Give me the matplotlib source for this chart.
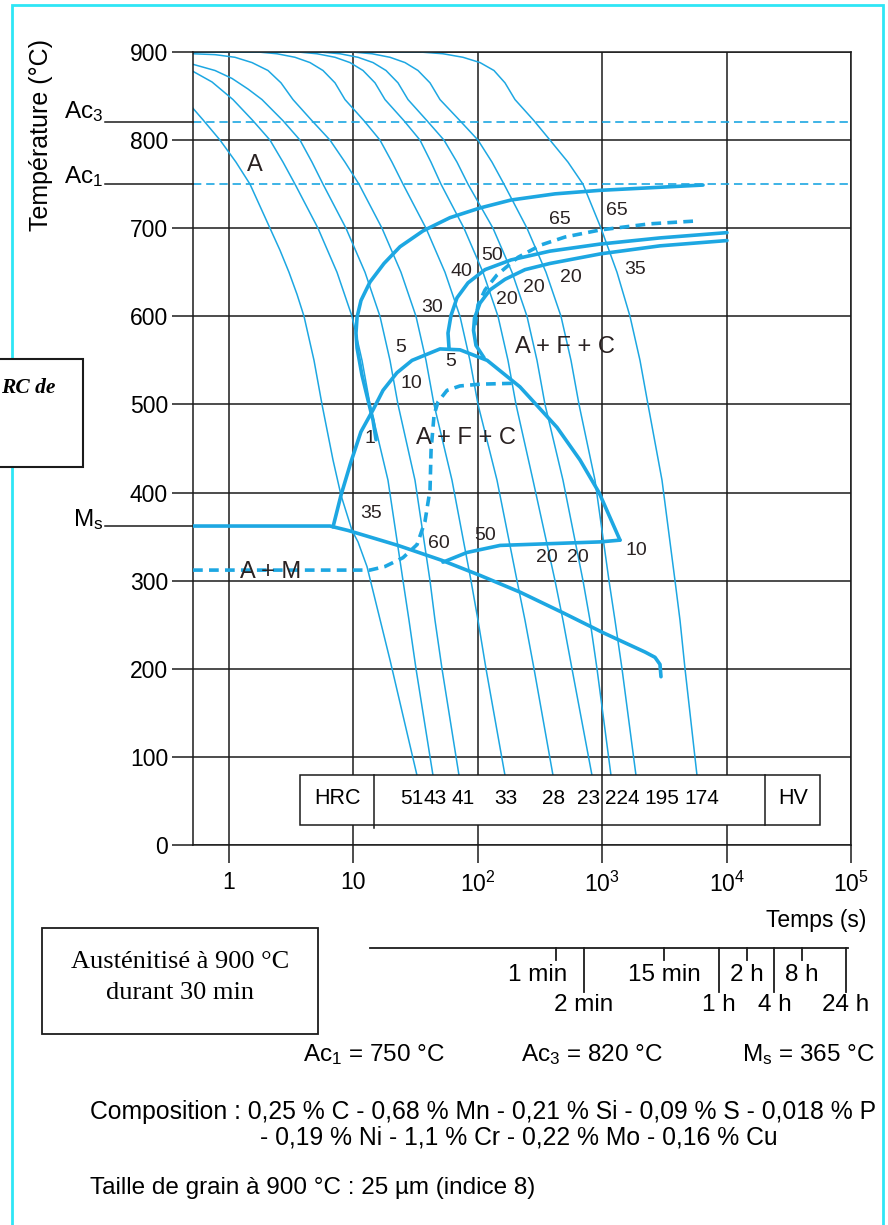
import matplotlib
matplotlib.use("Agg")
import matplotlib.pyplot as plt
from matplotlib.patches import Rectangle
from matplotlib import transforms, ticker

plt.rcParams['font.family'] = ['Liberation Sans', 'DejaVu Sans']
plt.rcParams['mathtext.default'] = 'regular'
plt.rcParams['lines.scale_dashes'] = False

BLUE = '#1da7e2'
INK = '#1b1b1b'
CYAN = '#2ee6f6'

# ---- cooling curves : time (s) / temperature (degC) ----
c1_t = [0.514, 0.618, 0.847, 1.138, 1.475, 2.136, 2.570, 3.036, 3.521, 4.009, 4.824, 5.593, 6.855, 7.949, 9.744, 10.89, 12.86, 19.69, 32.45]
c1_T = [836, 823, 800, 775, 750, 700, 675, 650, 625, 600, 550, 500, 437, 397, 357, 344, 316, 210, 79]
c2_t = [0.514, 0.730, 1.077, 1.559, 2.136, 2.718, 3.393, 5.192, 7.383, 9.744, 11.73, 13.6, 18.97, 25.05, 27.99, 31.86, 43.63]
c2_T = [878, 866, 846, 822, 800, 775, 750, 700, 650, 600, 550, 500, 414, 300, 255, 200, 79]
c3_t = [0.514, 0.772, 1.057, 1.421, 1.842, 2.718, 3.722, 4.648, 5.697, 8.719, 12.40, 16.36, 19.69, 22.83, 31.27, 41.28, 45.29, 51.55, 70.61]
c3_T = [886, 879, 870, 858, 846, 822, 800, 775, 750, 700, 650, 600, 550, 500, 414, 300, 255, 200, 79]
c4_t = [0.514, 0.772, 1.117, 1.530, 2.058, 2.618, 3.269, 4.648, 6.485, 8.56, 11.09, 16.98, 24.13, 31.86, 38.34, 44.45, 62.03, 88.17, 100.4, 116.4, 165.4]
c4_T = [898, 897, 894, 888, 879, 865, 846, 822, 800, 775, 750, 700, 650, 600, 550, 500, 414, 300, 255, 200, 79]
slow_T = [900, 900, 898, 894, 888, 879, 865, 846, 822, 800, 775, 750, 700, 650, 600, 550, 500, 414, 300, 255, 200, 79]
c5_t = [0.514, 1.711, 2.431, 3.393, 4.479, 5.697, 7.115, 8.56, 12.17, 16.36, 20.43, 25.05, 38.34, 54.5, 71.93, 86.5, 100.4, 142.7, 206.6, 239.6, 283.1, 402.3]
c6_t = [0.514, 3.586, 5.098, 7.115, 9.391, 11.95, 14.92, 17.95, 25.51, 34.31, 42.05, 50.6, 77.47, 110.1, 145.4, 174.9, 202.8, 277.8, 417.5, 484, 571.7, 827.9]
c7_t = [0.514, 5.39, 7.803, 10.89, 14.38, 18.29, 22.83, 27.48, 39.06, 53.5, 68.05, 83.41, 132.5, 188.3, 248.6, 299.2, 346.9, 484, 701, 797.8, 908.2, 1177]
c8_t = [0.514, 9.744, 14.11, 19.69, 25.99, 33.06, 41.28, 49.67, 71.93, 100.4, 130.1, 162.4, 248.6, 353.4, 466.5, 561.3, 650.9, 875.2, 1134, 1267, 1443, 1869]
c9_t = [0.514, 34.31, 52.52, 76.03, 104.2, 134.9, 165.4, 199.1, 283.1, 380.5, 531, 701, 978.1, 1315, 1673, 2013, 2334, 3025, 3848, 4222, 4631, 5781]

# ---- transformation lines ----
fer_t = [6462, 960, 417.5, 184.9, 104.2, 59.8, 36.3, 23.7, 17.62, 13.6, 11.51, 10.7, 10.49, 10.7, 11.73, 13.1, 14.38, 15.2]
fer_T = [749, 743, 739, 732, 723, 712, 697, 679, 660, 639, 618, 599, 581, 564, 533, 505, 482, 460]
bai_t = [6.86, 7.95, 9.57, 11.5, 14.4, 17.3, 22.4, 29.6, 49.7, 71.9, 119, 218, 294, 433, 663, 943, 1390]
bai_T = [361, 397, 435, 469, 494, 516, 536, 550, 563, 562, 550, 520, 500, 474, 437, 400, 346]
b10_t = [52.5, 81.9, 151, 960, 1390]
b10_T = [321, 332, 340, 344, 346]
ms_t = [0.514, 6.485, 9.05, 22.83, 51.55, 104.2, 218.4, 493, 1015, 2209, 2657, 2914, 2969]
ms_T = [362, 362, 357, 340, 323, 306, 287, 263, 241, 219, 213, 205, 191]
pb_t = [10074, 2914, 960, 380.5, 184.9, 114.3, 83.41, 68.05, 60.9, 57.6, 58.7]
pb_T = [695, 689, 682, 674, 664, 653, 638, 621, 601, 581, 564]
pc_t = [10074, 2914, 978, 380.5, 239.6, 165.4, 125.3, 104.2, 94.1, 92.4, 96.7, 112.2]
pc_T = [686, 680, 671, 660, 653, 642, 630, 615, 598, 584, 567, 553]
pd_t = [5370, 2423, 960, 502.3, 322, 210.6, 142.7, 114.3, 100.4, 95]
pd_T = [708, 705, 698, 690, 681, 667, 647, 630, 613, 590]
ld_t = [0.514, 13.6, 17.9, 25.0, 32.5, 37.6, 41.3, 42.1, 44.5, 47.9, 56.6, 71.9, 104, 192]
ld_T = [312, 312, 316, 326, 341, 367, 403, 448, 488, 503, 516, 521, 523, 524]

Ac1, Ac3, Ms = 750, 820, 362

hrc_values = ['51', '43', '41', '33', '28', '23', '224', '195', '174']
hrc_xpos = [412, 435, 463, 506, 554, 589, 622, 662, 702]

scale_t = [60, 120, 900, 3600, 7200, 14400, 28800, 86400]
scale_lbl = ['1 min', '2 min', '15 min', '1 h', '2 h', '4 h', '8 h', '24 h']
scale_row = [1, 2, 1, 2, 1, 2, 1, 2]

# ---- layout helpers (pixel -> fraction) ----
W, H = 888, 1225
def fx(x): return x / W
def fy(y): return 1 - y / H
def axx(x): return (x - 193) / 658
def axy(y): return (845 - y) / 793

fig = plt.figure(figsize=(W / 100, H / 100), dpi=100)
ax = fig.add_axes([fx(193), fy(845), 658 / W, 793 / H])
ax.set_xscale('log')
ax.set_xlim(0.5136, 1e5)
ax.set_ylim(0, 900)
ax.set_axisbelow(True)
ax.set_xticks([1, 10, 100, 1e3, 1e4, 1e5])
ax.set_xticklabels(['1', '10', '$10^2$', '$10^3$', '$10^4$', '$10^5$'])
ax.xaxis.set_minor_locator(ticker.NullLocator())
ax.set_yticks(range(0, 901, 100))
ax.grid(True, which='major', color=INK, lw=1.1)
ax.tick_params(axis='y', direction='out', length=15, width=1.1, color=INK, labelsize=16.5, pad=3)
ax.tick_params(axis='x', direction='out', length=13, width=1.1, color=INK, labelsize=16.5, pad=6)
for s in ax.spines.values():
    s.set_color(INK)
    s.set_linewidth(1.1)

# Ac lines
for T in (Ac3, Ac1):
    ax.axhline(T, color=BLUE, lw=1.2, ls=(0, (6, 3.5)), zorder=2)
lab_tr = transforms.blended_transform_factory(ax.transAxes, ax.transData)
for T in (Ac3, Ac1, Ms):
    ax.plot([axx(105), 0], [T, T], color=INK, lw=1.1, transform=lab_tr, clip_on=False)

# cooling curves
for t, T in [(c1_t, c1_T), (c2_t, c2_T), (c3_t, c3_T), (c4_t, c4_T),
             (c5_t, slow_T), (c6_t, slow_T), (c7_t, slow_T), (c8_t, slow_T), (c9_t, slow_T)]:
    ax.plot(t, T, color=BLUE, lw=1.1, zorder=2, solid_joinstyle='round')

# transformation boundaries
for t, T in [(fer_t, fer_T), (bai_t, bai_T), (b10_t, b10_T), (ms_t, ms_T), (pb_t, pb_T), (pc_t, pc_T)]:
    ax.plot(t, T, color=BLUE, lw=2.6, zorder=3, solid_capstyle='round', solid_joinstyle='round')
for t, T in [(pd_t, pd_T), (ld_t, ld_T)]:
    ax.plot(t, T, color=BLUE, lw=2.6, zorder=3, ls=(0, (7, 4.5)))

# hardness box
ax.add_patch(Rectangle((axx(300), axy(825)), axx(820) - axx(300), axy(775) - axy(825),
                       transform=ax.transAxes, fc='white', ec=INK, lw=1.1, zorder=5, clip_on=False))
ax.plot([axx(374)] * 2, [axy(828), axy(775)], color=INK, lw=1.1, transform=ax.transAxes, zorder=6, clip_on=False)
ax.plot([axx(765)] * 2, [axy(825), axy(775)], color=INK, lw=1.1, transform=ax.transAxes, zorder=6, clip_on=False)
ax.axvline(1000, ymin=axy(825), ymax=axy(775), color=INK, lw=1.1, zorder=6)
ax.text(axx(337), axy(799), 'HRC', transform=ax.transAxes, ha='center', va='center', fontsize=15.5, zorder=7)
ax.text(axx(793), axy(799), 'HV', transform=ax.transAxes, ha='center', va='center', fontsize=15.5, zorder=7)
for v, x in zip(hrc_values, hrc_xpos):
    ax.text(axx(x), axy(799), v, transform=ax.transAxes, ha='center', va='center', fontsize=15, zorder=7)

# labels inside the diagram
chart_labels = [
    ('A', 255, 165, 17), ('65', 560, 220, 14), ('65', 617, 210, 14), ('50', 492, 255, 14),
    ('40', 461, 272, 14), ('30', 432, 308, 14), ('20', 507, 299, 14), ('20', 534, 287, 14),
    ('20', 571, 277, 14), ('35', 635, 269, 14), ('5', 401, 347, 14), ('5', 451, 362, 14),
    ('10', 411, 383, 14), ('A + F + C', 565, 347, 17), ('1', 370, 438, 14),
    ('A + F + C', 466, 438, 17), ('35', 371, 513, 14), ('60', 439, 543, 14), ('50', 485, 535, 14),
    ('20', 547, 558, 14), ('20', 578, 557, 14), ('10', 636, 550, 14), ('A + M', 271, 572, 17),
]
for s, x, y, fs in chart_labels:
    fig.text(fx(x), fy(y), s, ha='center', va='center', fontsize=fs, color='#2a2222')

# left labels
fig.text(fx(41), fy(135), 'Température (°C)', rotation=90, ha='center', va='center', fontsize=18)
fig.text(fx(103), fy(118), 'Ac$_3$', ha='right', va='baseline', fontsize=17.5)
fig.text(fx(103), fy(183), 'Ac$_1$', ha='right', va='baseline', fontsize=17.5)
fig.text(fx(103), fy(526), 'M$_s$', ha='right', va='baseline', fontsize=17.5)

fig.text(fx(866), fy(921), 'Temps (s)', ha='right', va='center', fontsize=16.5)

# time scale in min / h
ax2 = fig.add_axes([fx(370), fy(992), (848 - 370) / W, (992 - 948) / H])
ax2.set_xscale('log')
ax2.set_xlim(0.5634, 91080)
ax2.set_ylim(0, 1)
ax2.axis('off')
ax2.plot([0.5634, 91080], [1, 1], color=INK, lw=1.3, clip_on=False)
for t, lab, row in zip(scale_t, scale_lbl, scale_row):
    y0 = (992 - 960) / 44 if row == 1 else 0
    ax2.plot([t, t], [y0, 1], color=INK, lw=1.3, clip_on=False)
    ty = (992 - 975) / 44 if row == 1 else (992 - 1005) / 44
    tr = ax2.transData
    if lab == '1 min':
        tr = transforms.offset_copy(ax2.transData, fig=fig, x=-18, y=0, units='dots')
    ax2.text(t, ty, lab, transform=tr, ha='center', va='center', fontsize=17.5, clip_on=False)

# notes
fig.text(fx(303), fy(1055), 'Ac$_1$ = 750 °C', ha='left', va='center', fontsize=17.5)
fig.text(fx(521), fy(1055), 'Ac$_3$ = 820 °C', ha='left', va='center', fontsize=17.5)
fig.text(fx(875), fy(1055), 'M$_s$ = 365 °C', ha='right', va='center', fontsize=17.5)
fig.text(fx(90), fy(1112), 'Composition : 0,25 % C - 0,68 % Mn - 0,21 % Si - 0,09 % S - 0,018 % P',
         ha='left', va='center', fontsize=17.8)
fig.text(fx(260), fy(1137), '- 0,19 % Ni - 1,1 % Cr - 0,22 % Mo - 0,16 % Cu',
         ha='left', va='center', fontsize=17.8)
fig.text(fx(90), fy(1188), 'Taille de grain à 900 °C : 25 µm (indice 8)', ha='left', va='center', fontsize=17.5)

# boxes and frame
fig.patches.append(Rectangle((fx(12), fy(1240)), fx(883) - fx(12), fy(5) - fy(1240),
                             transform=fig.transFigure, fill=False, ec=CYAN, lw=2, zorder=1))
fig.patches.append(Rectangle((fx(42), fy(1034)), fx(318) - fx(42), fy(928) - fy(1034),
                             transform=fig.transFigure, fc='white', ec=INK, lw=1.3, zorder=2))
fig.patches.append(Rectangle((fx(-10), fy(467)), fx(83) - fx(-10), fy(359) - fy(467),
                             transform=fig.transFigure, fc='white', ec=INK, lw=1.5, zorder=2))
fig.text(fx(180), fy(962), 'Austénitisé à 900 °C', ha='center', va='center', fontsize=19,
         family='Liberation Serif', zorder=3)
fig.text(fx(180), fy(993), 'durant 30 min', ha='center', va='center', fontsize=19,
         family='Liberation Serif', zorder=3)
fig.text(fx(55), fy(388), 'RC de', ha='right', va='center', fontsize=15.5, family='Liberation Serif',
         weight='bold', style='italic', zorder=3)

fig.savefig('out.png', dpi=100)
